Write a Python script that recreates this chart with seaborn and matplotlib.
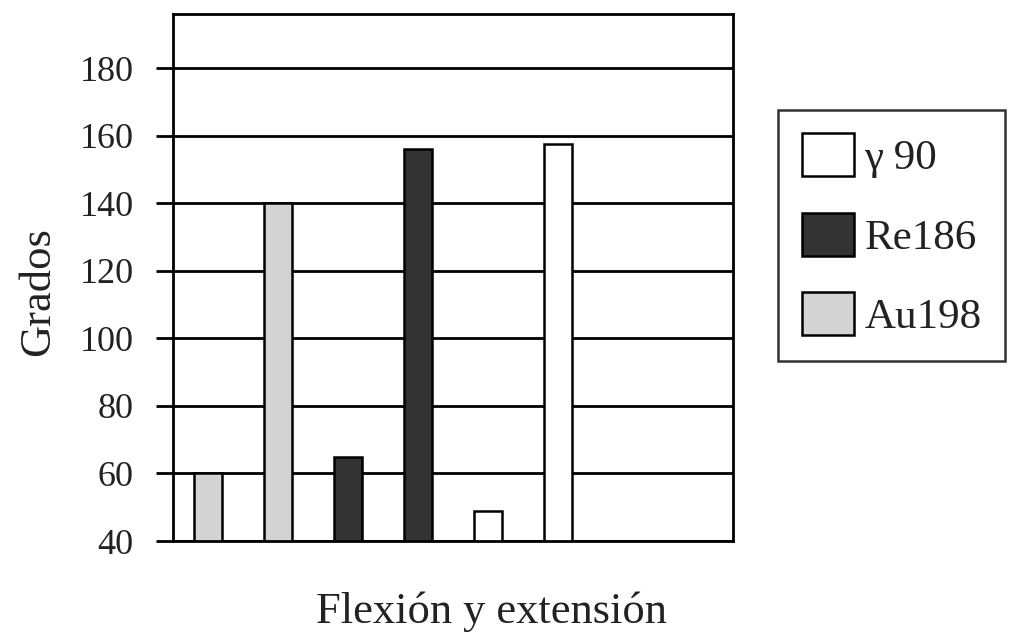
import pandas as pd
import seaborn as sns
import matplotlib.pyplot as plt

# values
posiciones = ["1", "2", "3", "4", "5", "6"]
huecos = ["7", "8"]  # empty slots on the right side of the plot
isotopos = ["Au198", "Au198", "Re186", "Re186", "γ 90", "γ 90"]
grados = [60, 140, 65, 156, 49, 157.5]
orden_leyenda = ["γ 90", "Re186", "Au198"]
colores = {"γ 90": "#ffffff", "Re186": "#333333", "Au198": "#d3d3d3"}
yticks = [40, 60, 80, 100, 120, 140, 160, 180]

df = pd.DataFrame({"posicion": posiciones, "isotopo": isotopos, "grados": grados})

sns.set_style("white")
plt.rcParams["font.family"] = ["Liberation Serif", "DejaVu Serif"]

fig = plt.figure(figsize=(10.16, 6.38), dpi=100)
ax = fig.add_axes([0.170, 0.152, 0.5515, 0.826])

sns.barplot(data=df, x="posicion", y="grados", hue="isotopo",
            order=posiciones + huecos, hue_order=orden_leyenda,
            palette=colores, dodge=False, width=0.4,
            edgecolor="black", linewidth=1.8, ax=ax)

ax.set_ylim(40, 196)
ax.set_xlim(-0.5, 7.5)
ax.set_yticks(yticks)
ax.set_yticklabels([str(t) for t in yticks], fontsize=26, color="#222222")
ax.set_xticks([])
ax.set_axisbelow(True)
ax.grid(axis="y", color="black", linewidth=2)
ax.tick_params(axis="y", direction="out", length=12, width=2, pad=16,
               color="black", left=True)
for s in ax.spines.values():
    s.set_color("black")
    s.set_linewidth(2)

ax.set_xlabel("Flexión y extensión", fontsize=32, color="#222222", va="baseline")
ax.xaxis.set_label_coords(0.568, -0.156)
ax.set_ylabel("Grados", fontsize=32, color="#222222", va="center")
ax.yaxis.set_label_coords(-0.24, 0.4725)

handles, labels = ax.get_legend_handles_labels()
ax.legend_.remove()
leg = fig.legend(handles, labels, loc="upper left", bbox_to_anchor=(0.766, 0.828),
                 fontsize=31, frameon=True, fancybox=False, edgecolor="black",
                 handlelength=1.2, handleheight=1.15, labelspacing=0.8,
                 borderpad=0.55, borderaxespad=0, handletextpad=0.25,
                 labelcolor="#222222")
leg.get_frame().set_linewidth(1.8)

fig.savefig("out.png", dpi=100)
